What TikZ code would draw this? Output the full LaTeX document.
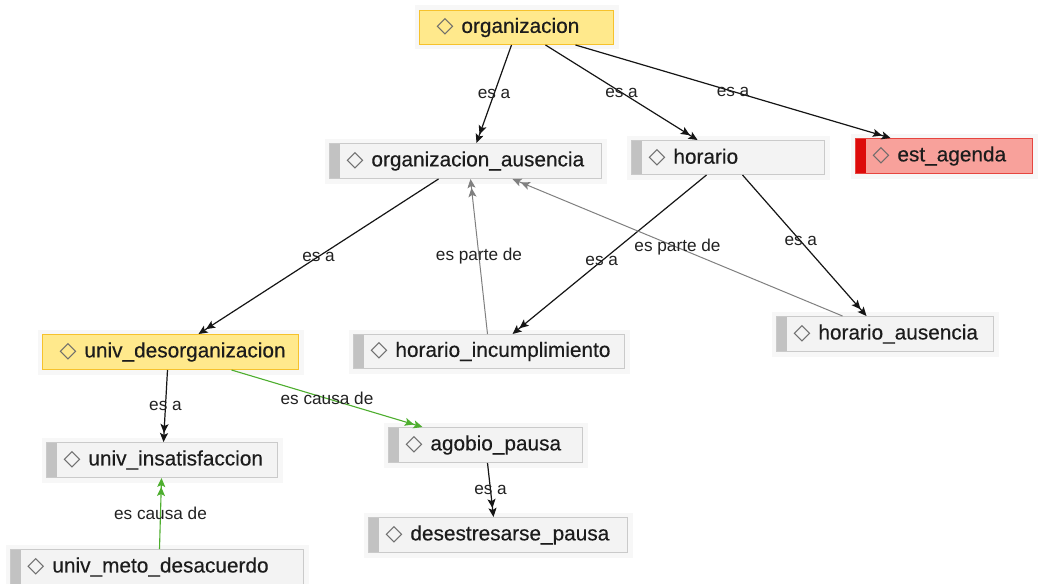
\documentclass[tikz,border=0pt]{standalone}
\usepackage{fontspec}
\setmainfont{Liberation Sans}
\newfontfamily\symfont{DejaVu Sans}
\newfontfamily\nodefont[FakeBold=0.35]{Liberation Sans}
\usetikzlibrary{arrows.meta}

\definecolor{txt}{HTML}{1C1C1C}
\definecolor{lbltxt}{HTML}{222222}
\definecolor{diam}{HTML}{6A6A6A}
\definecolor{yfill}{HTML}{FFE98C}
\definecolor{yline}{HTML}{F6C22C}
\definecolor{ybar}{HTML}{FFB000}
\definecolor{gfill}{HTML}{F3F3F3}
\definecolor{gline}{HTML}{CACACA}
\definecolor{gbar}{HTML}{C2C2C2}
\definecolor{rfill}{HTML}{F8A19B}
\definecolor{rline}{HTML}{E6453F}
\definecolor{rbar}{HTML}{DD0A0A}
\definecolor{glow}{HTML}{F7F7F7}
\definecolor{isacol}{HTML}{151515}
\definecolor{partcol}{HTML}{808080}
\definecolor{causecol}{HTML}{4DAE2E}

\newcommand\dia{{\color{diam}\symfont\fontsize{22}{22}\selectfont ◇}}

\tikzset{
  cbox/.style n args={3}{
    draw=#2, fill=#1, line width=1pt, anchor=north west,
    inner xsep=0pt, inner ysep=0pt, align=left,
    font=\nodefont\fontsize{20.8}{24}\selectfont, text=txt,
    preaction={draw=glow, line width=10pt, rounded corners=6pt},
    path picture={\fill[#3] (path picture bounding box.south west)
      rectangle ([xshift=10pt]path picture bounding box.north west);}
  },
  ybox/.style={cbox={yfill}{yline}{ybar}},
  gbox/.style={cbox={gfill}{gline}{gbar}},
  rbox/.style={cbox={rfill}{rline}{rbar}},
  dtip/.style={-{Stealth[length=9pt,width=8pt,inset=2pt]Stealth[length=9pt,width=8pt,inset=2pt]}},
  isa/.style={dtip, draw=isacol, line width=1.2pt},
  partof/.style={dtip, draw=partcol, line width=1pt},
  cause/.style={dtip, draw=causecol, line width=1.1pt},
  lbl/.style={midway, inner sep=0pt, text=lbltxt, font=\fontsize{17.2}{19}\selectfont},
}

\begin{document}
\begin{tikzpicture}[x=1pt, y=-1pt]
  \fill[white] (0,0) rectangle (1040,583);
  \useasboundingbox (0,0) rectangle (1040,583);

  % concept boxes
  \node[ybox, text width=194pt, minimum height=34pt] (org) at (419,10)
    {\hspace*{17pt}\dia\hspace{8pt}organizacion};
  \node[gbox, text width=272pt, minimum height=35pt] (oa) at (329,143)
    {\hspace*{17pt}\dia\hspace{8pt}organizacion\_ausencia};
  \node[gbox, text width=193pt, minimum height=34pt] (hor) at (631,140)
    {\hspace*{17pt}\dia\hspace{8pt}horario};
  \node[rbox, text width=177pt, minimum height=35pt] (est) at (855,138)
    {\hspace*{17pt}\dia\hspace{8pt}est\_agenda};
  \node[gbox, text width=271pt, minimum height=34pt] (hi) at (353,334)
    {\hspace*{17pt}\dia\hspace{8pt}horario\_incumplimiento};
  \node[gbox, text width=217pt, minimum height=35pt] (ha) at (776,316)
    {\hspace*{17pt}\dia\hspace{8pt}horario\_ausencia};
  \node[ybox, text width=256pt, minimum height=35pt] (ud) at (42,334)
    {\hspace*{17pt}\dia\hspace{8pt}univ\_desorganizacion};
  \node[gbox, text width=231pt, minimum height=35pt] (ui) at (46,442)
    {\hspace*{17pt}\dia\hspace{8pt}univ\_insatisfaccion};
  \node[gbox, text width=194pt, minimum height=35pt] (ap) at (388,427)
    {\hspace*{17pt}\dia\hspace{8pt}agobio\_pausa};
  \node[gbox, text width=259pt, minimum height=35pt] (dp) at (368,517)
    {\hspace*{17pt}\dia\hspace{8pt}desestresarse\_pausa};
  \node[gbox, text width=293pt, minimum height=35pt] (umd) at (10,549)
    {\hspace*{17pt}\dia\hspace{8pt}univ\_meto\_desacuerdo};

  % relations
  \draw[isa] ([xshift=-5pt]org.south) -- node[lbl]{es a} ([xshift=11pt]oa.north);
  \draw[isa] ([xshift=29pt]org.south) -- node[lbl]{es a} ([xshift=-30.5pt]hor.north);
  \draw[isa] ([xshift=59pt]org.south) -- node[lbl]{es a} ([xshift=-53.5pt]est.north);
  \draw[isa] ([xshift=-27pt]oa.south) -- node[lbl]{es a} ([xshift=28pt]ud.north);
  \draw[isa] ([xshift=-21.5pt]hor.south) -- node[lbl, pos=0.54]{es a} ([xshift=23.5pt]hi.north);
  \draw[isa] ([xshift=14.5pt]hor.south) -- node[lbl, pos=0.47]{es a} ([xshift=-18.5pt]ha.north);
  \draw[partof] ([xshift=-1.5pt]hi.north) -- node[lbl]{es parte de} ([xshift=5pt]oa.south);
  \draw[partof] ([xshift=-42.5pt]ha.north) -- node[lbl]{es parte de} ([xshift=47pt]oa.south);
  \draw[isa] ([xshift=-3pt]ud.south) -- node[lbl]{es a} ([xshift=1.5pt]ui.north);
  \draw[cause] ([xshift=61pt]ud.south) -- node[lbl]{es causa de} ([xshift=-63pt]ap.north);
  \draw[isa] ([xshift=2pt]ap.south) -- node[lbl]{es a} ([xshift=-4.5pt]dp.north);
  \draw[cause] ([xshift=2.5pt]umd.north) -- node[lbl]{es causa de} ([xshift=-0.5pt]ui.south);
\end{tikzpicture}
\end{document}
